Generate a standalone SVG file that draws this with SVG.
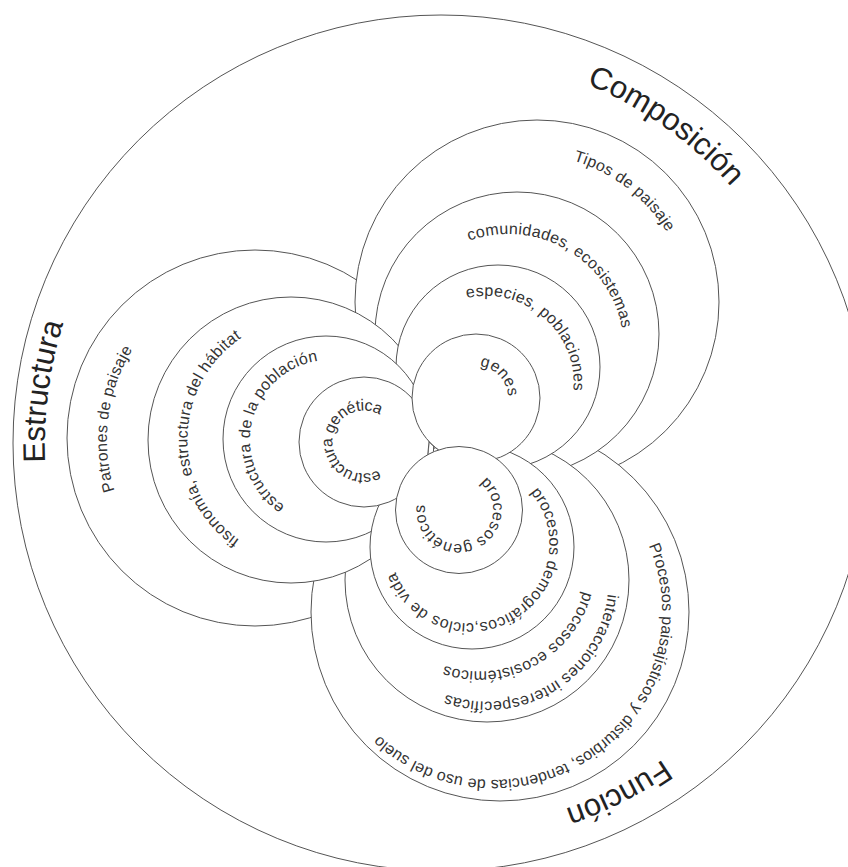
<svg xmlns="http://www.w3.org/2000/svg" width="848" height="867" viewBox="0 0 848 867">
<style>
.c{fill:#fff;stroke:#555;stroke-width:1}
.t{font-family:"Liberation Sans",Arial,sans-serif;font-size:16px;fill:#333;letter-spacing:0.3px}
.h{font-family:"Liberation Sans",Arial,sans-serif;font-size:31px;fill:#222}
</style>
<defs>
<path id="pT1" d="M427.16,448.12 A164,164 0 1 1 626.84,187.88 A164,164 0 1 1 427.16,448.12"/>
<path id="pT2" d="M451.10,449.73 A115.5,115.5 0 1 1 565.90,249.27 A115.5,115.5 0 1 1 451.10,449.73"/>
<path id="pT3" d="M430.58,447.40 A86,86 0 1 1 543.42,317.60 A86,86 0 1 1 430.58,447.40"/>
<path id="pT4" d="M452.52,419.74 A32,32 0 1 1 499.48,376.26 A32,32 0 1 1 452.52,419.74"/>
<path id="pE1" d="M437.65,460.09 A166,166 0 1 1 108.35,417.91 A166,166 0 1 1 437.65,460.09"/>
<path id="pE2" d="M429.49,440.77 A121,121 0 1 1 187.51,438.23 A121,121 0 1 1 429.49,440.77"/>
<path id="pE3" d="M407.95,458.00 A80,80 0 1 1 252.05,422.00 A80,80 0 1 1 407.95,458.00"/>
<path id="pE4" d="M395.50,442.55 A31.5,31.5 0 1 1 332.50,441.45 A31.5,31.5 0 1 1 395.50,442.55"/>
<path id="pF1" d="M446.48,478.39 A34,34 0 1 1 471.52,541.61 A34,34 0 1 1 446.48,478.39"/>
<path id="pF2" d="M429.91,475.93 A79,79 0 1 1 510.09,612.07 A79,79 0 1 1 429.91,475.93"/>
<path id="pF3a" d="M423.01,476.59 A121.6,121.6 0 1 1 550.99,683.41 A121.6,121.6 0 1 1 423.01,476.59"/>
<path id="pF3b" d="M429.08,469.17 A107.4,107.4 0 1 1 529.92,658.83 A107.4,107.4 0 1 1 429.08,469.17"/>
<path id="pF4" d="M397.97,475.38 A167,167 0 1 1 590.03,748.62 A167,167 0 1 1 397.97,475.38"/>
<path id="pHC" d="M217.35,758.83 A387,387 0 1 1 664.65,127.17 A387,387 0 1 1 217.35,758.83"/>
<path id="pHE" d="M833.70,494.00 A396,396 0 1 1 48.30,392.00 A396,396 0 1 1 833.70,494.00"/>
<path id="pHF" d="M266.37,98.77 A386,386 0 1 1 615.63,787.23 A386,386 0 1 1 266.37,98.77"/>
</defs>
<rect width="848" height="867" fill="#fff"/>
<g id="biodiversidad">
<circle class="c" cx="441" cy="443" r="428"/>
</g>
<g id="titulos">
<text class="h"><textPath href="#pHC" startOffset="50%" text-anchor="middle">Composición</textPath></text>
<text class="h"><textPath href="#pHE" startOffset="50%" text-anchor="middle">Estructura</textPath></text>
<text class="h"><textPath href="#pHF" startOffset="50%" text-anchor="middle">Función</textPath></text>
</g>
<g id="patrones">
<circle class="c" cx="255" cy="438" r="188"/>
</g>
<g id="tipos">
<circle class="c" cx="537" cy="302" r="182"/>
</g>
<g id="paisajisticos">
<circle class="c" cx="500" cy="612" r="189"/>
</g>
<g id="comunidades">
<circle class="c" cx="517" cy="334" r="142"/>
</g>
<g id="interacciones">
<circle class="c" cx="487" cy="580" r="142"/>
</g>
<g id="fisonomia">
<circle class="c" cx="291" cy="440" r="143"/>
</g>
<g id="especies">
<circle class="c" cx="498" cy="367" r="102"/>
</g>
<g id="poblacion">
<circle class="c" cx="326" cy="439" r="103"/>
</g>
<g id="demograficos">
<circle class="c" cx="472" cy="547" r="102"/>
</g>
<g id="genetica">
<circle class="c" cx="364" cy="442" r="65"/>
</g>
<g id="genes">
<circle class="c" cx="476" cy="398" r="64"/>
</g>
<g id="geneticos">
<circle class="c" cx="459" cy="510" r="63.5"/>
</g>
<g id="etiquetas">
<text class="t"><textPath href="#pT1" startOffset="50%" text-anchor="middle">Tipos de paisaje</textPath></text>
<text class="t"><textPath href="#pT2" startOffset="50%" text-anchor="middle">comunidades, ecosistemas</textPath></text>
<text class="t"><textPath href="#pT3" startOffset="50%" text-anchor="middle">especies, poblaciones</textPath></text>
<text class="t"><textPath href="#pT4" startOffset="50%" text-anchor="middle">genes</textPath></text>
<text class="t"><textPath href="#pE1" startOffset="50%" text-anchor="middle">Patrones de paisaje</textPath></text>
<text class="t"><textPath href="#pE2" startOffset="50%" text-anchor="middle">fisonomía, estructura del hábitat</textPath></text>
<text class="t"><textPath href="#pE3" startOffset="50%" text-anchor="middle">estructura de la población</textPath></text>
<text class="t" style="letter-spacing:-0.3px"><textPath href="#pE4" startOffset="50%" text-anchor="middle">estructura genética</textPath></text>
<text class="t"><textPath href="#pF1" startOffset="50%" text-anchor="middle">procesos genéticos</textPath></text>
<text class="t"><textPath href="#pF2" startOffset="50%" text-anchor="middle">procesos demográficos,ciclos de vida</textPath></text>
<text class="t"><textPath href="#pF3a" startOffset="50%" text-anchor="middle">interacciones interespecíficas</textPath></text>
<text class="t"><textPath href="#pF3b" startOffset="50%" text-anchor="middle">procesos ecosistémicos</textPath></text>
<text class="t" style="letter-spacing:0.1px"><textPath href="#pF4" startOffset="50%" text-anchor="middle">Procesos paisajísticos y disturbios, tendencias de uso del suelo</textPath></text>
</g>
</svg>
